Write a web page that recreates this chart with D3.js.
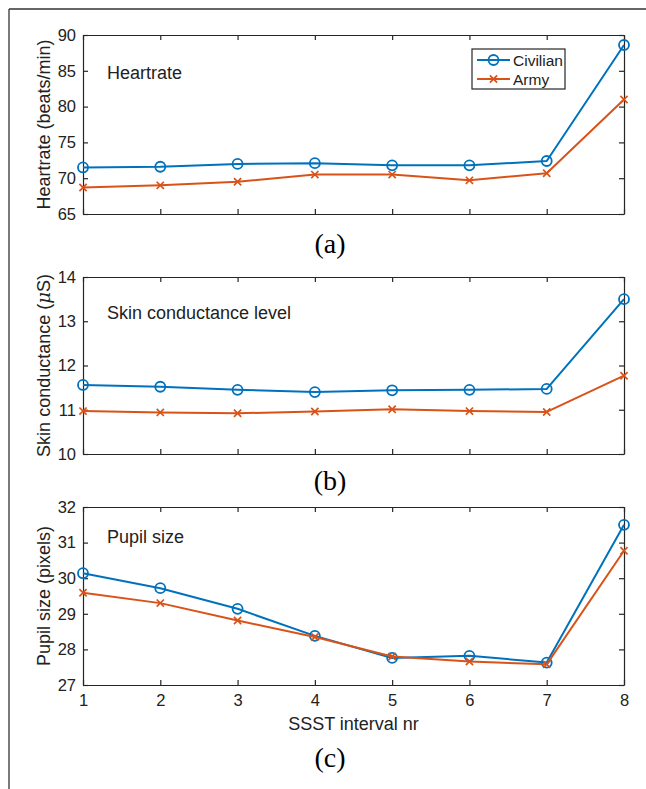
<!DOCTYPE html>
<html>
<head>
<meta charset="utf-8">
<script src="https://cdn.jsdelivr.net/npm/d3@7"></script>
<style>
  html, body { margin: 0; padding: 0; background: #fff; }
  svg { display: block; }
  text { font-family: "Liberation Sans", Arial, Helvetica, sans-serif; fill: #222; }
</style>
</head>
<body>
<svg id="chart" width="646" height="789"></svg>
<script>
const intervals = [1, 2, 3, 4, 5, 6, 7, 8];
const seriesNames = ["Civilian", "Army"];
const seriesColors = ["#0072BD", "#D95319"];

const heartCivilian = [71.5, 71.6, 72.0, 72.1, 71.8, 71.8, 72.4, 88.6];
const heartArmy     = [68.7, 69.0, 69.5, 70.5, 70.5, 69.7, 70.7, 81.0];
const skinCivilian  = [11.56, 11.52, 11.45, 11.40, 11.44, 11.45, 11.47, 13.50];
const skinArmy      = [10.97, 10.94, 10.92, 10.96, 11.01, 10.97, 10.95, 11.77];
const pupilCivilian = [30.14, 29.72, 29.14, 28.38, 27.76, 27.82, 27.63, 31.50];
const pupilArmy     = [29.59, 29.30, 28.81, 28.35, 27.80, 27.66, 27.58, 30.77];

const heartTicks = [65, 70, 75, 80, 85, 90];
const skinTicks  = [10, 11, 12, 13, 14];
const pupilTicks = [27, 28, 29, 30, 31, 32];

const panelTitles = ["Heartrate", "Skin conductance level", "Pupil size"];
const panelLetters = ["(a)", "(b)", "(c)"];
const xLabel = "SSST interval nr";

const svg = d3.select("#chart");
const axisColor = "#262626";

// outer frame (left + top edges visible)
svg.append("line").attr("x1", 9).attr("y1", 9).attr("x2", 646).attr("y2", 9)
  .attr("stroke", "#333").attr("stroke-width", 1.3);
svg.append("line").attr("x1", 9).attr("y1", 9).attr("x2", 9).attr("y2", 789)
  .attr("stroke", "#333").attr("stroke-width", 1.3);

const x = d3.scaleLinear().domain([1, 8]).range([83, 624]);

const panels = [
  { top: 35,  bottom: 214, ticks: heartTicks, data: [heartCivilian, heartArmy], title: panelTitles[0], titleY: 79,
    letter: panelLetters[0], letterY: 253, ylabel: [{t: "Heartrate (beats/min)"}], legend: true, xTickLabels: false },
  { top: 277, bottom: 454, ticks: skinTicks, data: [skinCivilian, skinArmy], title: panelTitles[1], titleY: 319,
    letter: panelLetters[1], letterY: 490, ylabel: [{t: "Skin conductance ("}, {t: "\u03bc", italic: true}, {t: "S)"}], legend: false, xTickLabels: false },
  { top: 507, bottom: 685, ticks: pupilTicks, data: [pupilCivilian, pupilArmy], title: panelTitles[2], titleY: 543,
    letter: panelLetters[2], letterY: 767, ylabel: [{t: "Pupil size (pixels)"}], legend: false, xTickLabels: true }
];

function drawMarker(g, kind, cx, cy, color) {
  if (kind === 0) {
    g.append("circle").attr("cx", cx).attr("cy", cy).attr("r", 5)
      .attr("fill", "none").attr("stroke", color).attr("stroke-width", 1.8);
  } else {
    const s = 3.6;
    g.append("path")
      .attr("d", `M${cx - s},${cy - s}L${cx + s},${cy + s}M${cx - s},${cy + s}L${cx + s},${cy - s}`)
      .attr("stroke", color).attr("stroke-width", 1.7).attr("fill", "none");
  }
}

panels.forEach(p => {
  const yDom = [p.ticks[0], p.ticks[p.ticks.length - 1]];
  const y = d3.scaleLinear().domain(yDom).range([p.bottom, p.top]);
  const g = svg.append("g");

  const left = g.append("g").attr("transform", `translate(${x.range()[0]},0)`)
    .call(d3.axisLeft(y).tickValues(p.ticks).tickFormat(d3.format("d")).tickSizeInner(-5).tickSizeOuter(0).tickPadding(7));
  const right = g.append("g").attr("transform", `translate(${x.range()[1]},0)`)
    .call(d3.axisRight(y).tickValues(p.ticks).tickFormat("").tickSizeInner(-5).tickSizeOuter(0));
  const top = g.append("g").attr("transform", `translate(0,${p.top})`)
    .call(d3.axisTop(x).tickValues(intervals).tickFormat("").tickSizeInner(-5).tickSizeOuter(0));
  const bottom = g.append("g").attr("transform", `translate(0,${p.bottom})`)
    .call(d3.axisBottom(x).tickValues(intervals).tickFormat(p.xTickLabels ? d3.format("d") : "").tickSizeInner(-5).tickSizeOuter(0).tickPadding(9));

  [left, right, top, bottom].forEach(a => {
    a.selectAll("path.domain").attr("stroke", axisColor).attr("stroke-width", 1.2);
    a.selectAll(".tick line").attr("stroke", axisColor).attr("stroke-width", 1.2);
    a.selectAll(".tick text").attr("fill", "#222").attr("font-size", 16.5)
      .attr("font-family", '"Liberation Sans", Arial, sans-serif');
  });
  bottom.selectAll(".tick text").attr("dy", "0.71em");

  p.data.forEach((vals, si) => {
    const line = d3.line().x((d, i) => x(intervals[i])).y(d => y(d));
    g.append("path").datum(vals).attr("d", line)
      .attr("fill", "none").attr("stroke", seriesColors[si]).attr("stroke-width", 2)
      .attr("stroke-linejoin", "round");
    const mg = g.append("g");
    vals.forEach((v, i) => drawMarker(mg, si, x(intervals[i]), y(v), seriesColors[si]));
  });

  g.append("text").attr("x", 107).attr("y", p.titleY).attr("font-size", 18).text(p.title);

  const yl = g.append("text")
    .attr("transform", `translate(50,${(p.top + p.bottom) / 2}) rotate(-90)`)
    .attr("text-anchor", "middle").attr("font-size", 18);
  p.ylabel.forEach(part => {
    const ts = yl.append("tspan").text(part.t);
    if (part.italic) ts.attr("font-style", "italic").attr("font-family", '"DejaVu Serif", "Liberation Serif", serif');
  });

  svg.append("text").attr("x", 330).attr("y", p.letterY).attr("text-anchor", "middle")
    .style("font-family", '"Liberation Serif", "Times New Roman", serif').attr("font-size", 28).style("fill", "#000")
    .text(p.letter);

  if (p.xTickLabels) {
    svg.append("text").attr("x", (x.range()[0] + x.range()[1]) / 2).attr("y", 730)
      .attr("text-anchor", "middle").attr("font-size", 18).text(xLabel);
  }

  if (p.legend) {
    const lg = svg.append("g");
    lg.append("rect").attr("x", 472).attr("y", 49).attr("width", 93).attr("height", 40)
      .attr("fill", "#fff").attr("stroke", axisColor).attr("stroke-width", 1.2);
    const rows = [60, 79];
    seriesNames.forEach((name, si) => {
      lg.append("line").attr("x1", 477).attr("x2", 510).attr("y1", rows[si]).attr("y2", rows[si])
        .attr("stroke", seriesColors[si]).attr("stroke-width", 2);
      drawMarker(lg, si, 493.5, rows[si], seriesColors[si]);
      lg.append("text").attr("x", 513).attr("y", rows[si] + 5.5).attr("font-size", 15.5).text(name);
    });
  }
});
</script>
</body>
</html>
